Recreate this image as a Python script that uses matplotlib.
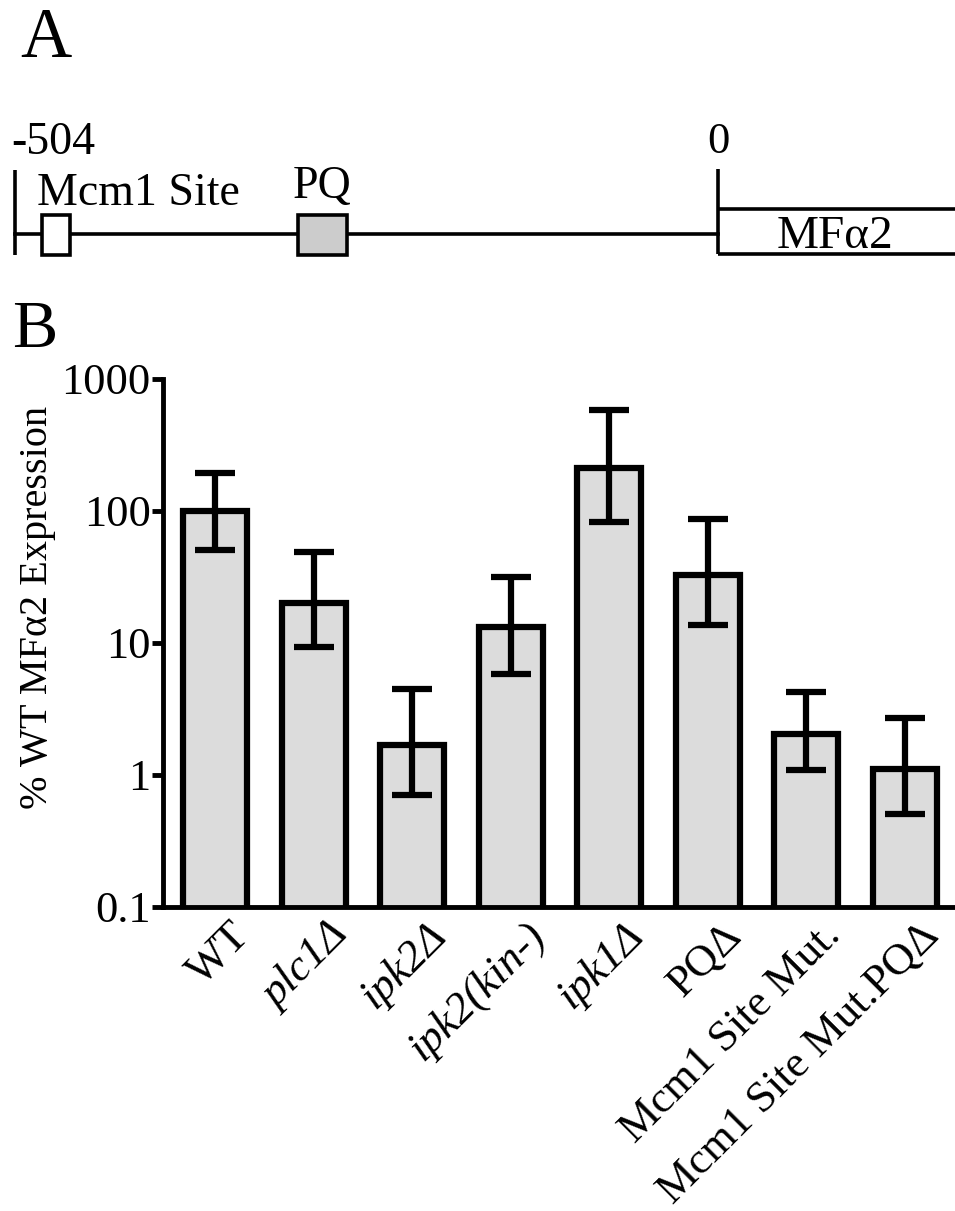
import matplotlib
matplotlib.use("Agg")
import matplotlib.pyplot as plt
import matplotlib.transforms as mtransforms
import numpy as np
from matplotlib.patches import Rectangle

plt.rcParams['font.family'] = ['Liberation Serif', 'DejaVu Serif']

# ---- data ----
categories = ['WT', 'plc1Δ', 'ipk2Δ', 'ipk2(kin-)', 'ipk1Δ', 'PQΔ',
              'Mcm1 Site Mut.', 'Mcm1 Site Mut.PQΔ']
italic_labels = [False, True, True, True, True, False, False, False]
values = [100, 20, 1.7, 13.3, 211, 32.5, 2.05, 1.11]
err_low = [50.6, 9.4, 0.71, 5.87, 82, 13.6, 1.09, 0.507]
err_high = [195, 48.6, 4.5, 31.4, 582, 86.5, 4.28, 2.72]
yticks = [0.1, 1, 10, 100, 1000]
ytick_labels = ['0.1', '1', '10', '100', '1000']

# promoter diagram (bp relative to start)
promoter_start = -504
features = ['Mcm1 Site', 'PQ']
feature_start = [-484.6, -301]
feature_end = [-464.6, -266]
feature_fill = ['white', '#cccccc']

W, H = 955, 1211
fig = plt.figure(figsize=(W / 100, H / 100), dpi=100)

# ---------------- Panel A ----------------
axA = fig.add_axes([0, 1 - 294 / H, 1, 200 / H])
axA.set_xlim(-504 - 15 / 1.395, -504 + 940 / 1.395)
axA.set_ylim(-60, 140)
axA.axis('off')
lwA = 2.6
axA.plot([promoter_start, promoter_start], [-21, 64], color='black', lw=lwA, solid_capstyle='butt')
axA.plot([promoter_start, 0], [0, 0], color='black', lw=lwA, zorder=1)
for name, s, e, fc in zip(features, feature_start, feature_end, feature_fill):
    axA.add_patch(Rectangle((s, -21), e - s, 40, facecolor=fc, edgecolor='black', lw=lwA, zorder=2))
axA.plot([0, 0], [-20, 65], color='black', lw=lwA, solid_capstyle='butt')
axA.plot([0, 200], [-20, -20], color='black', lw=lwA, solid_capstyle='butt')
axA.plot([0, 200], [25, 25], color='black', lw=lwA, solid_capstyle='butt')
axA.text(-507, 80, '-504', fontsize=33, ha='left', va='baseline')
axA.text(-488, 29, 'Mcm1 Site', fontsize=33, ha='left', va='baseline')
axA.text(-284, 36, 'PQ', fontsize=33, ha='center', va='baseline')
axA.text(0.5, 81, '0', fontsize=32, ha='center', va='baseline')
axA.text(84, -14, 'MFα2', fontsize=34, ha='center', va='baseline')

fig.text(20 / W, 1 - 57 / H, 'A', fontsize=51, ha='left', va='baseline')
fig.text(12 / W, 1 - 347 / H, 'B', fontsize=49, ha='left', va='baseline')

# ---------------- Panel B ----------------
ax = fig.add_axes([163 / W, 1 - 907 / H, 1 - 163 / W, (907 - 379) / H])
x = np.arange(len(categories))
vals = np.array(values)
ax.bar(x, vals, width=0.65, color='#dcdcdc', edgecolor='black', linewidth=4.5, zorder=2)
ax.errorbar(x, vals, yerr=[vals - np.array(err_low), np.array(err_high) - vals],
            fmt='none', ecolor='black', elinewidth=4.5, capsize=14.5, capthick=4.5, zorder=3)
ax.set_yscale('log')
ax.set_ylim(0.1, 1000)
ax.set_xlim(-0.53, 7.51)
ax.set_yticks(yticks)
ax.set_yticklabels(ytick_labels, fontsize=32)
ax.yaxis.set_minor_locator(matplotlib.ticker.NullLocator())
ax.tick_params(axis='y', length=8, width=3.5, pad=1)
ax.tick_params(axis='x', length=0, pad=6)
for s in ['top', 'right']:
    ax.spines[s].set_visible(False)
for s in ['left', 'bottom']:
    ax.spines[s].set_linewidth(3.5)
ax.set_xticks(x)
ax.set_xticklabels(categories, fontsize=32, rotation=45, ha='right', va='top',
                   rotation_mode='anchor')
offset = mtransforms.ScaledTranslation(14 / 100, 0, fig.dpi_scale_trans)
for lab, it in zip(ax.get_xticklabels(), italic_labels):
    if it:
        lab.set_fontstyle('italic')
    lab.set_transform(lab.get_transform() + offset)
fig.text(38 / W, 1 - 607 / H, '% WT MFα2 Expression', fontsize=29, rotation=90,
         ha='center', va='center')

fig.savefig('out.png', dpi=100)
